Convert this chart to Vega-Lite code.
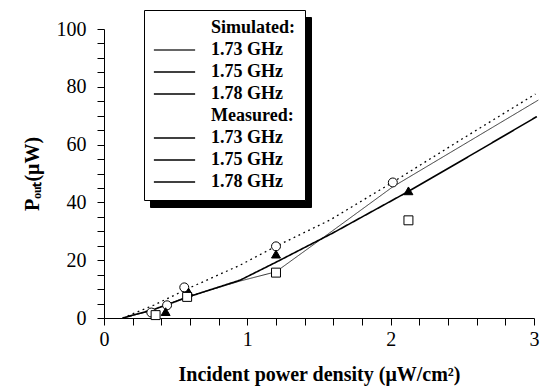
{
  "$schema": "https://vega.github.io/schema/vega-lite/v6.json",
  "width": 430,
  "height": 289,
  "autosize": {"type": "none"},
  "padding": {"left": 104, "top": 29, "right": 6, "bottom": 70},
  "background": "white",
  "config": {
    "view": {"stroke": null},
    "axis": {
      "labelFont": "Liberation Serif",
      "labelFontSize": 20,
      "labelColor": "black",
      "titleFont": "Liberation Serif",
      "titleFontSize": 20,
      "titleFontWeight": "bold",
      "titleColor": "black",
      "tickColor": "black",
      "domainColor": "black",
      "tickWidth": 1,
      "domainWidth": 1,
      "grid": false
    }
  },
  "datasets": {
    "sim": [
      {"key": "s1.73", "x": 0.13, "y": 0},
      {"key": "s1.73", "x": 0.33, "y": 2.5},
      {"key": "s1.73", "x": 0.56, "y": 7},
      {"key": "s1.73", "x": 0.95, "y": 12.8},
      {"key": "s1.73", "x": 1.2, "y": 16},
      {"key": "s1.73", "x": 1.49, "y": 26.4},
      {"key": "s1.73", "x": 2.015, "y": 45.4},
      {"key": "s1.73", "x": 3.03, "y": 75.4},
      {"key": "s1.75", "x": 0.13, "y": 0},
      {"key": "s1.75", "x": 0.35, "y": 4.5},
      {"key": "s1.75", "x": 0.6, "y": 10.5},
      {"key": "s1.75", "x": 0.95, "y": 18.3},
      {"key": "s1.75", "x": 1.2, "y": 24.8},
      {"key": "s1.75", "x": 1.58, "y": 34},
      {"key": "s1.75", "x": 2.015, "y": 47},
      {"key": "s1.75", "x": 2.5, "y": 62},
      {"key": "s1.75", "x": 3.01, "y": 77.5},
      {"key": "s1.78", "x": 0.13, "y": 0},
      {"key": "s1.78", "x": 0.35, "y": 3},
      {"key": "s1.78", "x": 0.6, "y": 7.5},
      {"key": "s1.78", "x": 0.95, "y": 13.1},
      {"key": "s1.78", "x": 1.2, "y": 19.3},
      {"key": "s1.78", "x": 1.6, "y": 29.5},
      {"key": "s1.78", "x": 2.124, "y": 43.8},
      {"key": "s1.78", "x": 2.6, "y": 57.5},
      {"key": "s1.78", "x": 3.02, "y": 69.7}
    ],
    "meas": [
      {"key": "m1.73", "x": 0.33, "y": 1.9},
      {"key": "m1.73", "x": 0.44, "y": 4.4},
      {"key": "m1.73", "x": 0.56, "y": 10.6},
      {"key": "m1.73", "x": 1.2, "y": 24.8},
      {"key": "m1.73", "x": 2.015, "y": 46.9},
      {"key": "m1.75", "x": 0.43, "y": 2.2},
      {"key": "m1.75", "x": 0.59, "y": 9.0},
      {"key": "m1.75", "x": 1.2, "y": 22.1},
      {"key": "m1.75", "x": 2.124, "y": 44.0},
      {"key": "m1.78", "x": 0.36, "y": 1.0},
      {"key": "m1.78", "x": 0.58, "y": 7.3},
      {"key": "m1.78", "x": 1.2, "y": 15.7},
      {"key": "m1.78", "x": 2.124, "y": 33.8}
    ]
  },
  "encoding": {
    "x": {
      "field": "x", "type": "quantitative",
      "scale": {"domain": [0, 3], "nice": false, "zero": false},
      "axis": {
        "orient": "bottom",
        "values": [0, 0.2, 0.4, 0.6, 0.8, 1, 1.2, 1.4, 1.6, 1.8, 2, 2.2, 2.4, 2.6, 2.8, 3],
        "tickSize": 7, "labelPadding": 4, "labelFlush": false, "labelOverlap": false,
        "labelFont": "Liberation Serif", "labelFontSize": 20,
        "labelExpr": "datum.value % 1 == 0 ? format(datum.value, 'd') : ''",
        "title": "Incident power density (μW/cm²)", "titlePadding": 15
      }
    },
    "y": {
      "field": "y", "type": "quantitative",
      "scale": {"domain": [0, 100], "nice": false},
      "axis": {
        "orient": "left",
        "values": [0, 5, 10, 15, 20, 25, 30, 35, 40, 45, 50, 55, 60, 65, 70, 75, 80, 85, 90, 95, 100],
        "tickSize": 7, "labelPadding": 11, "labelOverlap": false,
        "labelFont": "Liberation Serif", "labelFontSize": 20,
        "labelExpr": "datum.value % 20 == 0 ? datum.label : ''",
        "title": "Pₒᵤₜ(μW)", "titlePadding": 14
      }
    }
  },
  "layer": [
    {
      "data": {"name": "sim"},
      "mark": {"type": "line", "clip": false},
      "encoding": {
        "order": {"field": "x", "type": "quantitative"},
        "color": {
          "field": "key", "type": "nominal",
          "scale": {
            "domain": ["Simulated:", "s1.73", "s1.75", "s1.78", "Measured:", "m1.73", "m1.75", "m1.78"],
            "range": ["white", "#333333", "black", "black", "white", "black", "black", "black"]
          },
          "legend": {
            "orient": "none", "legendX": 40, "legendY": -19, "zindex": 2,
            "title": null, "fillColor": "white", "strokeColor": "black", "padding": 9,
            "symbolSize": 1700, "clipHeight": 18, "rowPadding": 4, "labelOffset": 15,
            "symbolType": "stroke", "symbolStrokeWidth": 1.5,
            "labelFont": "Liberation Serif", "labelFontSize": 18, "labelFontWeight": "bold", "labelColor": "black",
            "labelLimit": 400,
            "labelExpr": "length(datum.value) > 6 ? datum.value : slice(datum.value, 1) + ' GHz\u00a0\u00a0\u00a0\u00a0\u00a0\u00a0\u00a0'"
          }
        },
        "strokeDash": {
          "field": "key", "type": "nominal",
          "scale": {"domain": ["s1.73", "s1.75", "s1.78"], "range": [[1, 0], [1.8, 3.6], [1, 0]]},
          "legend": null
        },
        "strokeWidth": {
          "field": "key", "type": "nominal",
          "scale": {"domain": ["s1.73", "s1.75", "s1.78"], "range": [1, 1.6, 2.3]},
          "legend": null
        }
      }
    },
    {
      "data": {"name": "meas"},
      "transform": [{"calculate": "'d' + datum.key", "as": "k2"}],
      "mark": {"type": "point", "filled": true, "strokeWidth": 1, "opacity": 1, "size": 80, "clip": false},
      "encoding": {
        "shape": {
          "field": "key", "type": "nominal",
          "scale": {"domain": ["m1.73", "m1.75", "m1.78"], "range": ["circle", "triangle-up", "square"]},
          "legend": null
        },
        "fill": {
          "field": "key", "type": "nominal",
          "scale": {"domain": ["m1.73", "m1.75", "m1.78"], "range": ["white", "black", "white"]},
          "legend": null
        },
        "stroke": {
          "field": "k2", "type": "nominal",
          "scale": {
            "domain": ["dSimulated:", "ds1.73", "ds1.75", "ds1.78", "dMeasured:", "dm1.73", "dm1.75", "dm1.78"],
            "range": ["black", "black", "black", "black", "black", "black", "black", "black"]
          },
          "legend": {
            "orient": "none", "legendX": 46, "legendY": -12, "zindex": 1,
            "title": null, "fillColor": "black", "strokeColor": "black", "padding": 9,
            "symbolSize": 1700, "clipHeight": 18, "rowPadding": 4, "labelOffset": 15,
            "symbolType": "stroke", "symbolStrokeWidth": 1.5,
            "labelFont": "Liberation Serif", "labelFontSize": 18, "labelFontWeight": "bold", "labelColor": "black",
            "labelLimit": 400,
            "labelExpr": "length(datum.value) > 7 ? slice(datum.value, 1) : slice(datum.value, 2) + ' GHz\u00a0\u00a0\u00a0\u00a0\u00a0\u00a0\u00a0'"
          }
        }
      }
    }
  ]
}
